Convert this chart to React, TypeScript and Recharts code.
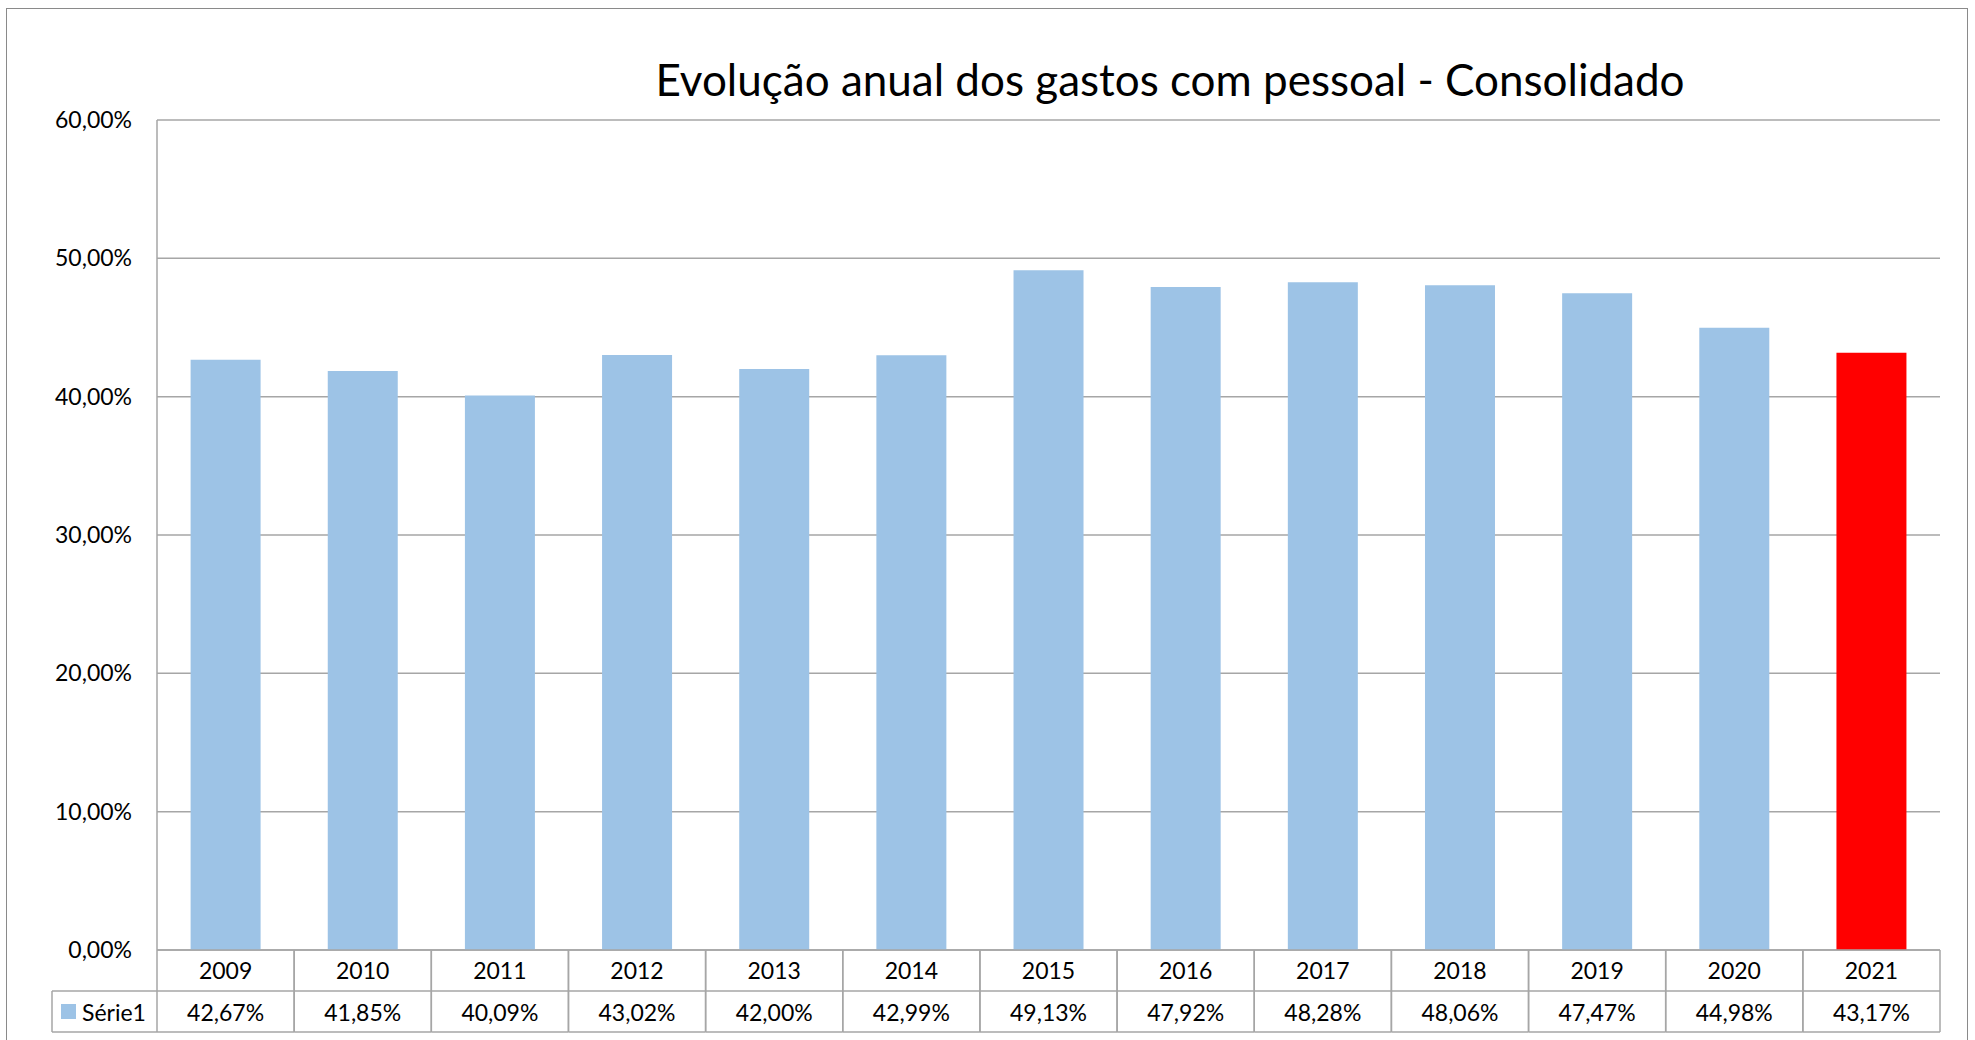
import React from 'react';
import { BarChart, Bar, XAxis, YAxis, CartesianGrid, Cell } from 'recharts';

const categories = ['2009', '2010', '2011', '2012', '2013', '2014', '2015', '2016', '2017', '2018', '2019', '2020', '2021'];
const serie1 = [42.67, 41.85, 40.09, 43.02, 42.0, 42.99, 49.13, 47.92, 48.28, 48.06, 47.47, 44.98, 43.17];
const yTicks = [0, 10, 20, 30, 40, 50, 60];
const seriesName = 'Série1';
const title = 'Evolução anual dos gastos com pessoal - Consolidado';

const data = categories.map((c, i) => ({ year: c, value: serie1[i] }));

const W = 1975;
const H = 1040;
const MARGIN = { top: 120, right: 35, bottom: 7, left: 0 };
const Y_AXIS_W = 157;
const X_AXIS_H = 83;
const PLOT_W = W - MARGIN.left - MARGIN.right - Y_AXIS_W;
const CELL_W = PLOT_W / categories.length;
const FONT = 'Lato, "Noto Sans", sans-serif';
const BORDER = '#a6a6a6';
const BLUE = '#9DC3E6';
const RED = '#FF0000';

const fmt = (v: number) => v.toFixed(2).replace('.', ',') + '%';

const TableTick = (props: any) => {
  const { x, y, payload, index } = props;
  const left = x - CELL_W / 2;
  const right = x + CELL_W / 2;
  const mid = y + 41;
  const bottom = y + 82;
  const val = serie1[index];
  return (
    <g>
      <line x1={left} y1={y} x2={left} y2={bottom} stroke={BORDER} strokeWidth={1.5} />
      <line x1={right} y1={y} x2={right} y2={bottom} stroke={BORDER} strokeWidth={1.5} />
      <line x1={left} y1={mid} x2={right} y2={mid} stroke={BORDER} strokeWidth={1.5} />
      <line x1={left} y1={bottom} x2={right} y2={bottom} stroke={BORDER} strokeWidth={1.5} />
      <text x={x} y={y + 29} textAnchor="middle" fontFamily={FONT} fontSize={23} fill="#000">
        {payload.value}
      </text>
      <text x={x} y={y + 71} textAnchor="middle" fontFamily={FONT} fontSize={23} fill="#000">
        {fmt(val)}
      </text>
      {index === 0 && (
        <g>
          <line x1={left - 105} y1={mid} x2={left} y2={mid} stroke={BORDER} strokeWidth={1.5} />
          <line x1={left - 105} y1={bottom} x2={left} y2={bottom} stroke={BORDER} strokeWidth={1.5} />
          <line x1={left - 105} y1={mid} x2={left - 105} y2={bottom} stroke={BORDER} strokeWidth={1.5} />
          <rect x={left - 96} y={mid + 13} width={15} height={15} fill={BLUE} />
          <text x={left - 75} y={y + 71} textAnchor="start" fontFamily={FONT} fontSize={23} fill="#000">
            {seriesName}
          </text>
        </g>
      )}
    </g>
  );
};

export default function App() {
  return (
    <div style={{ position: 'absolute', left: 0, top: 0, width: W, height: H, background: '#fff', overflow: 'hidden' }}>
      <div
        style={{
          position: 'absolute',
          left: 6,
          top: 8,
          width: 1962,
          height: H,
          borderLeft: '1px solid #8a8a8a',
          borderTop: '1px solid #8a8a8a',
          borderRight: '1px solid #8a8a8a',
          boxSizing: 'border-box',
        }}
      />
      <div
        style={{
          position: 'absolute',
          left: 0,
          top: 53,
          width: 2340,
          textAlign: 'center',
          fontFamily: FONT,
          fontSize: 44,
          color: '#000',
          lineHeight: '53px',
          whiteSpace: 'nowrap',
        }}
      >
        {title}
      </div>
      <div style={{ position: 'absolute', left: 0, top: 0 }}>
        <BarChart width={W} height={H} data={data} margin={MARGIN} barCategoryGap="24.5%">
          <CartesianGrid horizontal={true} vertical={false} stroke="#a6a6a6" strokeWidth={1.5} />
          <XAxis
            dataKey="year"
            height={X_AXIS_H}
            tickLine={false}
            tickSize={0}
            tickMargin={0}
            axisLine={{ stroke: BORDER, strokeWidth: 1.5 }}
            tick={<TableTick />}
            interval={0}
          />
          <YAxis
            width={Y_AXIS_W}
            domain={[0, 60]}
            ticks={yTicks}
            tickFormatter={fmt}
            tickLine={false}
            tickSize={0}
            tickMargin={25}
            axisLine={{ stroke: BORDER, strokeWidth: 1.5 }}
            tick={{ fontFamily: FONT, fontSize: 23, fill: '#000' }}
            interval={0}
          />
          <Bar dataKey="value" isAnimationActive={false}>
            {data.map((d, i) => (
              <Cell key={d.year} fill={i === data.length - 1 ? RED : BLUE} />
            ))}
          </Bar>
        </BarChart>
      </div>
    </div>
  );
}
